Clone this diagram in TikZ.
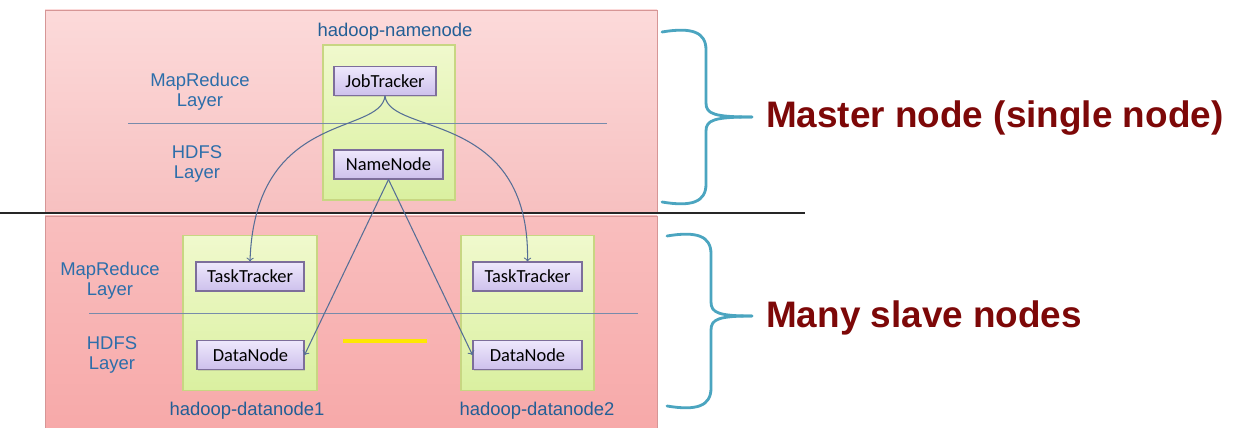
\documentclass[tikz,border=0pt]{standalone}
\usepackage{fontspec}
\setmainfont{Liberation Sans}
\newfontfamily\boxfont{Carlito}
\usetikzlibrary{shadows}

\definecolor{pinkEdge}{RGB}{214,150,150}
\definecolor{greenEdge}{RGB}{200,214,130}
\definecolor{greenTop}{RGB}{240,249,205}
\definecolor{greenBot}{RGB}{218,240,160}
\definecolor{purpleEdge}{RGB}{125,110,155}
\definecolor{purpleTop}{RGB}{238,232,252}
\definecolor{purpleBot}{RGB}{205,192,236}
\definecolor{layerBlue}{RGB}{45,110,170}
\definecolor{hostBlue}{RGB}{35,95,150}
\definecolor{linkBlue}{RGB}{85,110,150}
\definecolor{braceBlue}{RGB}{75,165,192}
\definecolor{titleRed}{RGB}{125,8,8}

\begin{document}
\begin{tikzpicture}
[x=0.02cm,y=-0.02cm,
  hostDecorate/.style={shape=rectangle,draw=greenEdge,line width=0.6pt,
    top color=greenTop,bottom color=greenBot,inner sep=0pt},%
  daemonDecorate/.style={shape=rectangle,draw=purpleEdge,line width=0.6pt,
    top color=purpleTop,bottom color=purpleBot,minimum height=0.58cm,
    inner sep=0pt,font=\boxfont\fontsize{10.5}{11}\selectfont,
    drop shadow={opacity=0.25,shadow xshift=0.8pt,shadow yshift=-0.8pt}},%
  layerDecorate/.style={text=layerBlue,align=center,
    font=\fontsize{10.5}{11.4}\selectfont},%
  lineDecorate/.style={->,draw=linkBlue,line width=0.6pt},%
  braceDecorate/.style={draw=braceBlue,line width=1.6pt,line cap=round},%
  titleDecorate/.style={anchor=west,text=titleRed,
    font=\bfseries\fontsize{21}{24}\selectfont}]
\useasboundingbox (0,0) rectangle (1236,428);
%%
%% master and slave areas
\fill[white] (0,0) rectangle (1236,428);
\draw[pinkEdge,line width=0.5pt,top color={rgb,255:red,252;green,218;blue,218},
  bottom color={rgb,255:red,247;green,192;blue,192}] (45,10) rectangle (657,212);
\draw[pinkEdge,line width=0.5pt,top color={rgb,255:red,249;green,190;blue,190},
  bottom color={rgb,255:red,247;green,168;blue,168}] (45,216) rectangle (657,440);
\draw[black!85,line width=1.7pt] (0,213) -- (805,213);
%%
%% host boxes
\foreach \nodename/\x/\y/\w in {
  hn/389/122.5/132, hd1/250/313/134, hd2/527.5/313/133}
{
  \node (\nodename) at (\x,\y) [hostDecorate,minimum width=\w*0.02cm,
    minimum height=3.1cm] {};
}
%% layer separators
\draw[linkBlue!80,line width=0.5pt] (128,123) -- (607,123);
\draw[linkBlue!80,line width=0.5pt] (89,313) -- (638,313);
\draw[yellow!90!orange,line width=2.4pt] (343,341) -- (427,341);
%%
%% daemons
\foreach \nodename/\x/\y/\w/\name in {
  jt/385/81/102/JobTracker, nn/388.5/164.5/109/NameNode,
  tt1/250/276.5/108/TaskTracker, dn1/250.5/355/107/DataNode,
  tt2/527.5/276.5/109/TaskTracker, dn2/527.5/355/109/DataNode}
{
  \node (\nodename) at (\x,\y) [daemonDecorate,minimum width=\w*0.02cm] {\name};
}
%%
%% labels
\node (hnlabel) at (395,32) [layerDecorate,text=hostBlue] {hadoop-namenode};
\node (hd1label) at (247,411) [layerDecorate,text=hostBlue] {hadoop-datanode1};
\node (hd2label) at (537,411) [layerDecorate,text=hostBlue] {hadoop-datanode2};
\node (mrtop) at (200,92) [layerDecorate] {MapReduce\\Layer};
\node (hdfstop) at (197,164) [layerDecorate] {HDFS\\Layer};
\node (mrbot) at (110,281) [layerDecorate] {MapReduce\\Layer};
\node (hdfsbot) at (112,355) [layerDecorate] {HDFS\\Layer};
%%
%% edges or lines
\draw[lineDecorate] (jt.south) .. controls +(-5,40) and +(5,-152) .. (tt1.north);
\draw[lineDecorate] (jt.south) .. controls +(5,40) and +(2.5,-152) .. (tt2.north);
\path
\foreach \startnode/\endnode in {nn.south/dn1.east, nn.south/dn2.west}
{
  (\startnode) edge[lineDecorate] (\endnode)
};
%%
%% braces and titles
\foreach \ex/\vx/\ya/\yb/\yc in {662/706/32/117/202, 667/711/236/316/406}
{
  \draw[braceDecorate] (\ex,\ya) .. controls (\vx-14,\ya-5) and (\vx,\ya) .. (\vx,\ya+18)
    -- (\vx,\yb-14) .. controls (\vx,\yb-3) and (\vx+8,\yb) .. (752,\yb);
  \draw[braceDecorate] (\ex,\yc) .. controls (\vx-14,\yc+5) and (\vx,\yc) .. (\vx,\yc-18)
    -- (\vx,\yb+14) .. controls (\vx,\yb+3) and (\vx+8,\yb) .. (752,\yb);
}
\node (master) at (760,118) [titleDecorate] {Master node (single node)};
\node (slave) at (760,318) [titleDecorate] {Many slave nodes};
\end{tikzpicture}
\end{document}
